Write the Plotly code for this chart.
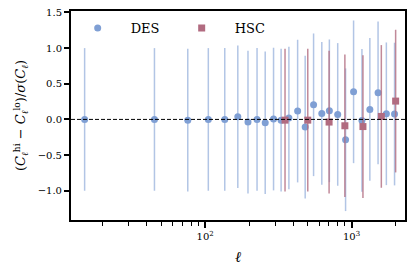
import plotly.graph_objects as go

# DES data
des_ell = [15, 45, 76, 105, 136, 167, 196, 226, 257, 293, 330, 373, 428, 482, 550, 626, 705, 804, 910, 1032, 1177, 1333, 1517, 1728, 1966]
des_val = [0.0, 0.0, -0.01, 0.0, 0.0, 0.037, -0.037, 0.0, -0.047, 0.005, -0.01, 0.02, 0.117, -0.107, 0.205, 0.084, 0.121, 0.07, -0.285, 0.387, -0.014, 0.14, 0.373, 0.079, 0.075]
des_err = [1.0] * len(des_ell)

# HSC data
hsc_ell = [351, 502, 702, 900, 1196, 1597, 2000]
hsc_val = [-0.01, -0.01, -0.037, -0.089, -0.1, 0.042, 0.257]
hsc_err = [1.0] * len(hsc_ell)

x_tickvals = [100, 1000]
x_ticktext = ["10<sup>2</sup>", "10<sup>3</sup>"]
x_minor = [20, 30, 40, 50, 60, 70, 80, 90, 200, 300, 400, 500, 600, 700, 800, 900, 2000]
y_tickvals = [-1.0, -0.5, 0.0, 0.5, 1.0, 1.5]
y_ticktext = ["\u22121.0", "\u22120.5", "0.0", "0.5", "1.0", "1.5"]

DES_C = "#7f9fd4"
DES_BAR = "rgba(127,159,212,0.6)"
HSC_C = "#b16b80"
HSC_BAR = "rgba(177,107,128,0.8)"
FONT = "DejaVu Serif"

fig = go.Figure()
fig.add_trace(go.Scatter(
    x=des_ell, y=des_val, mode="markers", name="\u2003DES",
    marker=dict(symbol="circle", size=7, color=DES_C),
    error_y=dict(type="data", array=des_err, color=DES_BAR, thickness=1.5, width=0),
))
fig.add_trace(go.Scatter(
    x=hsc_ell, y=hsc_val, mode="markers", name="\u2003HSC",
    marker=dict(symbol="square", size=7, color=HSC_C),
    error_y=dict(type="data", array=hsc_err, color=HSC_BAR, thickness=1.5, width=0),
))

fig.add_shape(type="line", xref="paper", yref="y", x0=0, x1=1, y0=0, y1=0,
              line=dict(color="black", width=1, dash="4px,2px"), layer="above")

fig.update_layout(
    width=414, height=272,
    margin=dict(l=71, r=7, t=11, b=52),
    paper_bgcolor="white", plot_bgcolor="white",
    font=dict(family=FONT, size=10, color="black"),
    showlegend=True,
    legend=dict(orientation="h", x=0.02, y=0.99, xanchor="left", yanchor="top",
                bgcolor="rgba(0,0,0,0)", font=dict(size=13, family=FONT),
                entrywidth=59, entrywidthmode="pixels"),
    xaxis=dict(type="log", range=[1.083, 3.365],
               tickvals=x_tickvals, ticktext=x_ticktext,
               ticks="outside", ticklen=6, tickwidth=1.5, tickcolor="black",
               minor=dict(tickvals=x_minor, ticks="outside", ticklen=4, tickwidth=1.2, tickcolor="black", showgrid=False),
               showline=True, linecolor="black", linewidth=2, mirror=True,
               showgrid=False, zeroline=False,
               tickfont=dict(size=10, family=FONT),
               title=dict(text="<i>\u2113</i>", font=dict(size=15, family=FONT), standoff=10)),
    yaxis=dict(range=[-1.41, 1.52],
               tickvals=y_tickvals, ticktext=y_ticktext,
               ticks="outside", ticklen=5, tickwidth=1.5, tickcolor="black",
               showline=True, linecolor="black", linewidth=2, mirror=True,
               showgrid=False, zeroline=False,
               tickfont=dict(size=10, family=FONT),
               title=dict(text="(<i>C</i><sub><i>\u2113</i></sub><sup>hi</sup> \u2212 <i>C</i><sub><i>\u2113</i></sub><sup>lo</sup>)/<i>\u03c3</i>(<i>C</i><sub><i>\u2113</i></sub>)",
                          font=dict(size=13, family=FONT), standoff=9)),
)

fig.write_html("out.html", config={"displayModeBar": False},
               post_script="document.body.style.margin='0';document.body.style.padding='0';")
